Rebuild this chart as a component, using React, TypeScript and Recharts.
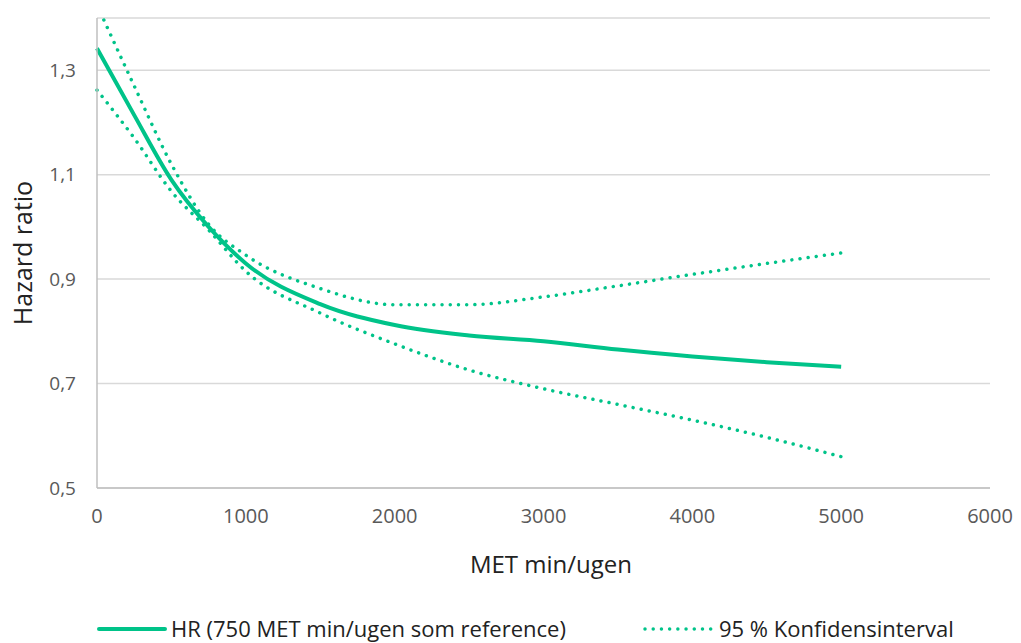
import { LineChart, Line, XAxis, YAxis, CartesianGrid } from "recharts";

const metMin = [0, 250, 500, 750, 1000, 1500, 2000, 2500, 3000, 3500, 4000, 4500, 5000];
const hr = [1.342, 1.214, 1.09, 1.0, 0.93, 0.852, 0.812, 0.792, 0.781, 0.765, 0.752, 0.741, 0.732];
const ciUpper = [1.425, 1.27, 1.12, 1.005, 0.946, 0.882, 0.851, 0.851, 0.866, 0.887, 0.909, 0.93, 0.95];
const ciLower = [1.262, 1.17, 1.068, 0.994, 0.915, 0.835, 0.776, 0.726, 0.69, 0.66, 0.63, 0.597, 0.56];

const xTicks = [0, 1000, 2000, 3000, 4000, 5000, 6000];
const yTicks = [0.5, 0.7, 0.9, 1.1, 1.3];

const GREEN = "#00c389";
const TEXT = "#595959";
const FONT = "'Open Sans', sans-serif";

const data = metMin.map((m, i) => ({ met: m, hr: hr[i], upper: ciUpper[i], lower: ciLower[i] }));

export default function App() {
  return (
    <div style={{ position: "absolute", left: 0, top: 0, width: 1021, height: 643, background: "#fff", fontFamily: FONT, overflow: "hidden" }}>
      <LineChart width={1021} height={643} data={data} margin={{ top: 18, right: 31, bottom: 125, left: 0 }}>
        <CartesianGrid vertical={false} stroke="#d9d9d9" strokeWidth={1.5} />
        <XAxis
          dataKey="met"
          type="number"
          domain={[0, 6000]}
          ticks={xTicks}
          height={30}
          stroke="#bfbfbf"
          strokeWidth={1.5}
          tickLine={false}
          tickMargin={15}
          tick={{ fill: TEXT, fontSize: 20, fontFamily: FONT }}
          label={{
            content: () => (
              <text x={551} y={573} textAnchor="middle" fill="#222" fontSize={24} fontFamily={FONT}>
                MET min/ugen
              </text>
            ),
          }}
        />
        <YAxis
          type="number"
          domain={[0.5, 1.4]}
          allowDataOverflow
          ticks={yTicks}
          width={97}
          stroke="#bfbfbf"
          strokeWidth={1.5}
          tickLine={false}
          tickMargin={15}
          tickFormatter={(v: number) => v.toFixed(1).replace(".", ",")}
          tick={{ fill: TEXT, fontSize: 19, fontFamily: FONT }}
          label={{
            content: () => (
              <text
                x={22}
                y={253}
                transform="rotate(-90 22 253)"
                textAnchor="middle"
                dominantBaseline="central"
                fill="#222"
                fontSize={25}
                fontFamily={FONT}
              >
                Hazard ratio
              </text>
            ),
          }}
        />
        <Line
          dataKey="upper"
          type="monotone"
          stroke={GREEN}
          strokeWidth={3.5}
          strokeDasharray="0.01 8.2"
          strokeLinecap="round"
          dot={false}
          activeDot={false}
          isAnimationActive={false}
        />
        <Line
          dataKey="lower"
          type="monotone"
          stroke={GREEN}
          strokeWidth={3.5}
          strokeDasharray="0.01 8.2"
          strokeLinecap="round"
          dot={false}
          activeDot={false}
          isAnimationActive={false}
        />
        <Line
          dataKey="hr"
          type="monotone"
          stroke={GREEN}
          strokeWidth={4}
          dot={false}
          activeDot={false}
          isAnimationActive={false}
        />
      </LineChart>
      {/* legend */}
      <div style={{ position: "absolute", left: 97, top: 614, height: 29, lineHeight: "29px", display: "flex", alignItems: "center", fontSize: 22, color: "#222", whiteSpace: "nowrap" }}>
        <svg width={70} height={10} style={{ marginRight: 4 }}>
          <line x1={2} y1={5} x2={68} y2={5} stroke={GREEN} strokeWidth={4} strokeLinecap="round" />
        </svg>
        <span>HR (750 MET min/ugen som reference)</span>
      </div>
      <div style={{ position: "absolute", left: 643, top: 614, height: 29, lineHeight: "29px", display: "flex", alignItems: "center", fontSize: 22, color: "#222", whiteSpace: "nowrap" }}>
        <svg width={72} height={10} style={{ marginRight: 4 }}>
          <line x1={2} y1={5} x2={70} y2={5} stroke={GREEN} strokeWidth={3.5} strokeDasharray="0.01 8.2" strokeLinecap="round" />
        </svg>
        <span>95 % Konfidensinterval</span>
      </div>
    </div>
  );
}
